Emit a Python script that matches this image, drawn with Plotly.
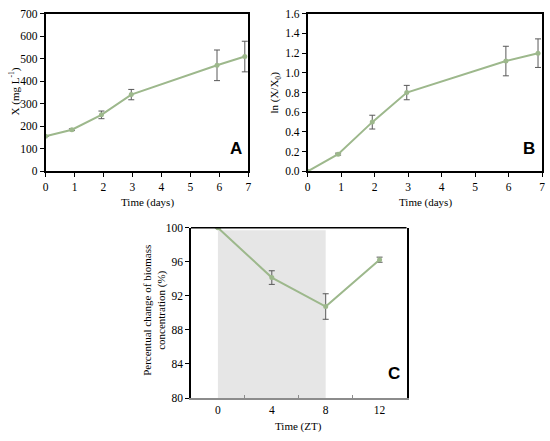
import plotly.graph_objects as go

# panel A: biomass concentration
days_a = [0, 0.91, 1.93, 2.96, 5.92, 6.88]
biomass = [156, 185, 251, 341, 471, 510]
biomass_err = [0, 4, 17, 23, 68, 68]

# panel B: ln(X/X0)
days_b = [0, 0.91, 1.93, 2.96, 5.92, 6.88]
ln_ratio = [0.0, 0.175, 0.50, 0.80, 1.12, 1.20]
ln_err = [0, 0.01, 0.07, 0.073, 0.15, 0.145]

# panel C: percentual change over ZT
zt = [0, 4, 8, 12]
pct_change = [100, 94.15, 90.75, 96.25]
pct_err = [0, 0.8, 1.5, 0.3]

LINE = "#9DB88C"
ERR = "#595959"
SERIF = "Liberation Serif"

fig = go.Figure()


def add_series(x, y, err, xa, ya):
    fig.add_trace(go.Scatter(
        x=x, y=y, xaxis=xa, yaxis=ya,
        mode="lines+markers",
        line=dict(color=LINE, width=2),
        marker=dict(color=LINE, size=5),
        error_y=dict(type="data", array=err, color=ERR, thickness=1, width=3),
        showlegend=False,
    ))


add_series(days_a, biomass, biomass_err, "x", "y")
add_series(days_b, ln_ratio, ln_err, "x2", "y2")
add_series(zt, pct_change, pct_err, "x3", "y3")

tick_font = dict(family=SERIF, size=11.5, color="black")
box_axis = dict(showline=True, linecolor="black", linewidth=1.5, mirror=True,
                ticks="outside", ticklen=4, tickcolor="black",
                showgrid=False, zeroline=False, tickfont=tick_font)

fig.update_layout(
    width=550, height=441,
    margin=dict(l=0, r=0, t=0, b=0),
    plot_bgcolor="white", paper_bgcolor="white",
    xaxis=dict(box_axis, domain=[0.0782, 0.4509], range=[0, 7], dtick=1, anchor="y"),
    yaxis=dict(box_axis, domain=[0.6145, 0.9819], range=[0, 700], dtick=100, anchor="x"),
    xaxis2=dict(box_axis, domain=[0.56, 0.9909], range=[0, 7], dtick=1, anchor="y2"),
    yaxis2=dict(box_axis, domain=[0.6145, 0.9819], range=[0, 1.6], dtick=0.2,
                tickformat=".1f", anchor="x2"),
    xaxis3=dict(domain=[0.3455, 0.7418], range=[-2, 14], anchor="y3",
                showline=True, linecolor="#8C8C8C", linewidth=2,
                tickvals=[0, 4, 8, 12], ticks="", showgrid=False, zeroline=False,
                tickfont=tick_font,
                minor=dict(tickvals=[2, 6, 10], ticks="inside", ticklen=3,
                           tickcolor="#8C8C8C", showgrid=False)),
    yaxis3=dict(box_axis, domain=[0.0862, 0.483], range=[80, 100], dtick=4,
                anchor="x3"),
)

# grey band (dark period) in panel C
fig.add_shape(type="rect", xref="x3", yref="y3", x0=0, x1=8, y0=80, y1=99.7,
              fillcolor="#E6E6E6", line=dict(width=0), layer="below")
# top frame line of panel C
fig.add_shape(type="line", xref="x3 domain", yref="y3 domain", x0=0, x1=1, y0=1, y1=1,
              line=dict(color="black", width=1.5))

title_font = dict(family=SERIF, size=11, color="black")
letter_font = dict(family="Liberation Sans", size=17, color="black")

annots = [
    dict(x=146 / 550, y=1 - 202 / 441, text="Time (days)", font=title_font),
    dict(x=427 / 550, y=1 - 202 / 441, text="Time (days)", font=title_font),
    dict(x=299 / 550, y=1 - 432 / 441, text="Time (ZT)", font=title_font),
    dict(x=12 / 550, y=1 - 88 / 441, text="X (mg L<sup>-1</sup>)", textangle=-90,
         font=title_font),
    dict(x=275 / 550, y=1 - 89 / 441, text="ln (X/X<sub>0</sub>)", textangle=-90,
         font=title_font),
    dict(x=153 / 550, y=1 - 313 / 441,
         text="Percentual change of biomass<br>concentration (%)", textangle=-90,
         font=title_font),
    dict(x=236 / 550, y=1 - 147 / 441, text="<b>A</b>", font=letter_font),
    dict(x=532 / 550, y=1 - 146 / 441, text="<b>B</b>", font=letter_font),
    dict(x=395 / 550, y=1 - 378 / 441, text="<b>C</b>", font=letter_font),
]
for a in annots:
    fig.add_annotation(xref="paper", yref="paper", showarrow=False,
                       xanchor="center", yanchor="middle", **a)

# drop the default page margin so the 550x441 figure fills the window exactly
fig.write_html("out.html",
               config={"displayModeBar": False},
               post_script="document.body.style.margin='0';"
                           "document.body.style.overflow='hidden';")
